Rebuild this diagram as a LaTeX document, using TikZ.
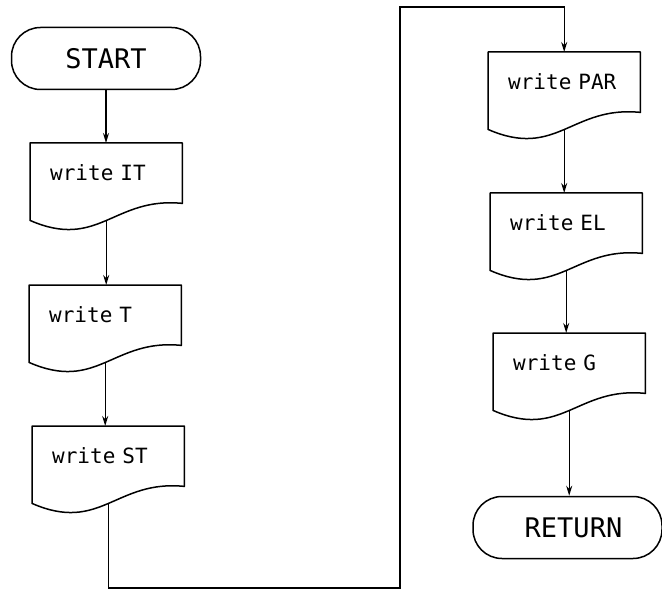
\documentclass[tikz,border=0pt]{standalone}
\usepackage{fontspec}
\newfontfamily\flowfont{DejaVu Sans Mono}
\usetikzlibrary{arrows.meta,calc}

\tikzset{
  shape line/.style={line width=1.5pt, line join=round},
  doc/.style={inner xsep=20pt, inner ysep=0pt, text width=112pt, align=left,
    text height=37pt, text depth=40pt, font=\flowfont\fontsize{21}{21}\selectfont},
  terminal/.style={draw, shape line, rounded corners=29pt, minimum width=189pt,
    minimum height=62pt, font=\flowfont\fontsize{27}{27}\selectfont},
  flow/.style={line width=1.4pt, -{Stealth[length=10pt,width=6pt]}},
  wire/.style={line width=1.4pt}
}

% outline of a document symbol around a named node, wavy bottom edge
\newcommand\drawdoc[1]{%
  \draw[shape line] (#1.south west) -- (#1.north west) -- (#1.north east)
    -- ([yshift=17pt]#1.south east)
    .. controls ($(#1.south west)!0.55!(#1.south east)+(0,-24)$)
       and ($(#1.south west)!0.45!(#1.south east)+(0,30)$) .. (#1.south west) -- cycle;}

\begin{document}
\begin{tikzpicture}[x=1pt,y=-1pt]
  \useasboundingbox (0,0) rectangle (662,591);

  % left column
  \node[terminal] (start) at (106,58.5) {START};
  \node[doc, anchor=north west] (it) at (30,143) {write IT};
  \node[doc, anchor=north west] (t)  at (29,285) {write T};
  \node[doc, anchor=north west] (st) at (32,426) {write ST};

  % right column
  \node[doc, anchor=north west] (par) at (488,52)  {write PAR};
  \node[doc, anchor=north west] (el)  at (490,193) {write EL};
  \node[doc, anchor=north west] (g)   at (493,333) {write G};
  \node[terminal] (ret) at (567.5,527.5) {\hspace*{12pt}RETURN};

  \foreach \n in {it,t,st,par,el,g} {\drawdoc{\n}}

  % connector corners
  \coordinate (c2) at (400,588);
  \coordinate (c3) at (400,7);

  \draw[flow] (start.south) -- (start.south |- it.north);
  \draw[flow] (it.south) -- (it.south |- t.north);
  \draw[flow] (t.south) -- (t.south |- st.north);
  \draw[flow] (st.south) |- (c2) -- (c3) -| (par.north);
  \draw[flow] (par.south) -- (par.south |- el.north);
  \draw[flow] (el.south) -- (el.south |- g.north);
  \draw[flow] (g.south) -- (g.south |- ret.north);
\end{tikzpicture}
\end{document}
